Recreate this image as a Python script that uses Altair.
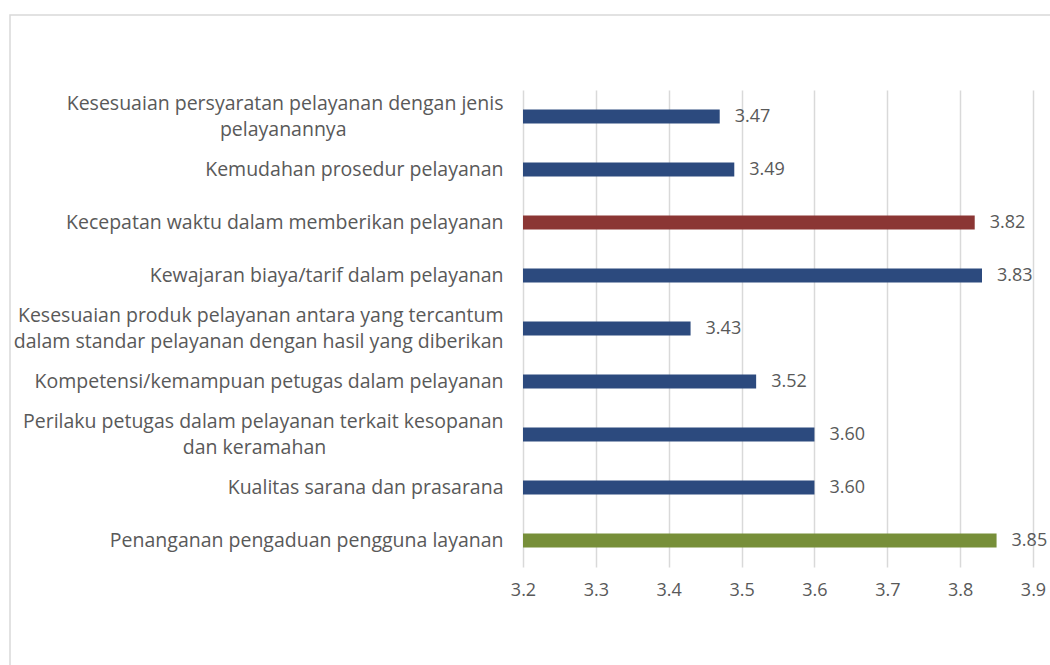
import altair as alt
import pandas as pd

categories = [
    "Kesesuaian persyaratan pelayanan dengan jenis|pelayanannya",
    "Kemudahan prosedur pelayanan",
    "Kecepatan waktu dalam memberikan pelayanan",
    "Kewajaran biaya/tarif dalam pelayanan",
    "Kesesuaian produk pelayanan antara yang tercantum|dalam standar pelayanan dengan hasil yang diberikan",
    "Kompetensi/kemampuan petugas dalam pelayanan",
    "Perilaku petugas dalam pelayanan terkait kesopanan|dan keramahan",
    "Kualitas sarana dan prasarana",
    "Penanganan pengaduan pengguna layanan",
]
scores = [3.47, 3.49, 3.82, 3.83, 3.43, 3.52, 3.60, 3.60, 3.85]
groups = ["biasa", "biasa", "merah", "biasa", "biasa", "biasa", "biasa", "biasa", "hijau"]
x_ticks = [3.2, 3.3, 3.4, 3.5, 3.6, 3.7, 3.8, 3.9]

df = pd.DataFrame({"unsur": categories, "nilai": scores, "grup": groups})

FONT = "Open Sans"
GRAY = "#595959"
NBSP = "\u00a0"
ZW = "\u200b"

# two-line labels: each line padded on the right so that, right-aligned, the lines sit centred
L = "split(datum.label,'|')"
M = f"max(length({L}[0]), length({L}[1]))"


def padded(i):
    n = f"length({L}[{i}])"
    extra = f"(({M} - {n}) > 4 ? floor(({M} - {n}) * 0.95 + 0.5) : 0)"
    return f"pad({L}[{i}], {n} + {extra}, '{NBSP}') + '{ZW}'"


label_expr = f"length({L})>1 ? [{padded(0)}, {padded(1)}] : datum.label"

y_enc = alt.Y(
    "unsur:N",
    sort=None,
    title=None,
    scale=alt.Scale(paddingInner=0.0, paddingOuter=0.0),
    axis=alt.Axis(
        labelExpr=label_expr,
        labelFont=FONT,
        labelFontSize=19.5,
        labelColor=GRAY,
        labelPadding=20,
        labelLineHeight=26,
        labelLimit=700,
        labelOffset={"condition": {"test": "indexof(datum.value,'|')>=0", "value": -13}, "value": 0},
        ticks=False,
        domain=False,
        grid=False,
    ),
)

x_scale = alt.Scale(domain=[3.2, 3.9], nice=False, zero=False)

bars = alt.Chart(df).mark_bar(size=14, clip=True).encode(
    x=alt.X(
        "nilai:Q",
        scale=x_scale,
        title=None,
        axis=alt.Axis(
            values=x_ticks,
            format=".1f",
            labelFont=FONT,
            labelFontSize=18,
            labelColor=GRAY,
            labelPadding=14,
            labelFlush=False,
            ticks=False,
            domain=False,
            grid=True,
            gridColor="#d9d9d9",
            gridWidth=1.5,
        ),
    ),
    y=y_enc,
    color=alt.Color(
        "grup:N",
        scale=alt.Scale(domain=["biasa", "merah", "hijau"], range=["#2C4A7E", "#8B3634", "#778F39"]),
        legend=None,
    ),
)

texts = alt.Chart(df).mark_text(
    align="left", baseline="middle", dx=15, font=FONT, fontSize=18, color=GRAY
).encode(
    x=alt.X("nilai:Q", scale=x_scale),
    y=alt.Y("unsur:N", sort=None),
    text=alt.Text("nilai:Q", format=".2f"),
)

frame = alt.Chart(alt.Data(values=[{"f": 1}])).mark_rect(
    fill="transparent", stroke="#d9d9d9", strokeWidth=1.5
).encode(
    x=alt.value(-513), x2=alt.value(540), y=alt.value(-75), y2=alt.value(600)
)

chart = alt.layer(frame, bars, texts).properties(
    width=510,
    height=477,
    autosize=alt.AutoSizeParams(type="none"),
    padding={"left": 523, "top": 90, "right": 17, "bottom": 98},
    background="white",
).configure_view(stroke=None)

chart.save("out.html", embed_options={"renderer": "svg", "actions": False})
